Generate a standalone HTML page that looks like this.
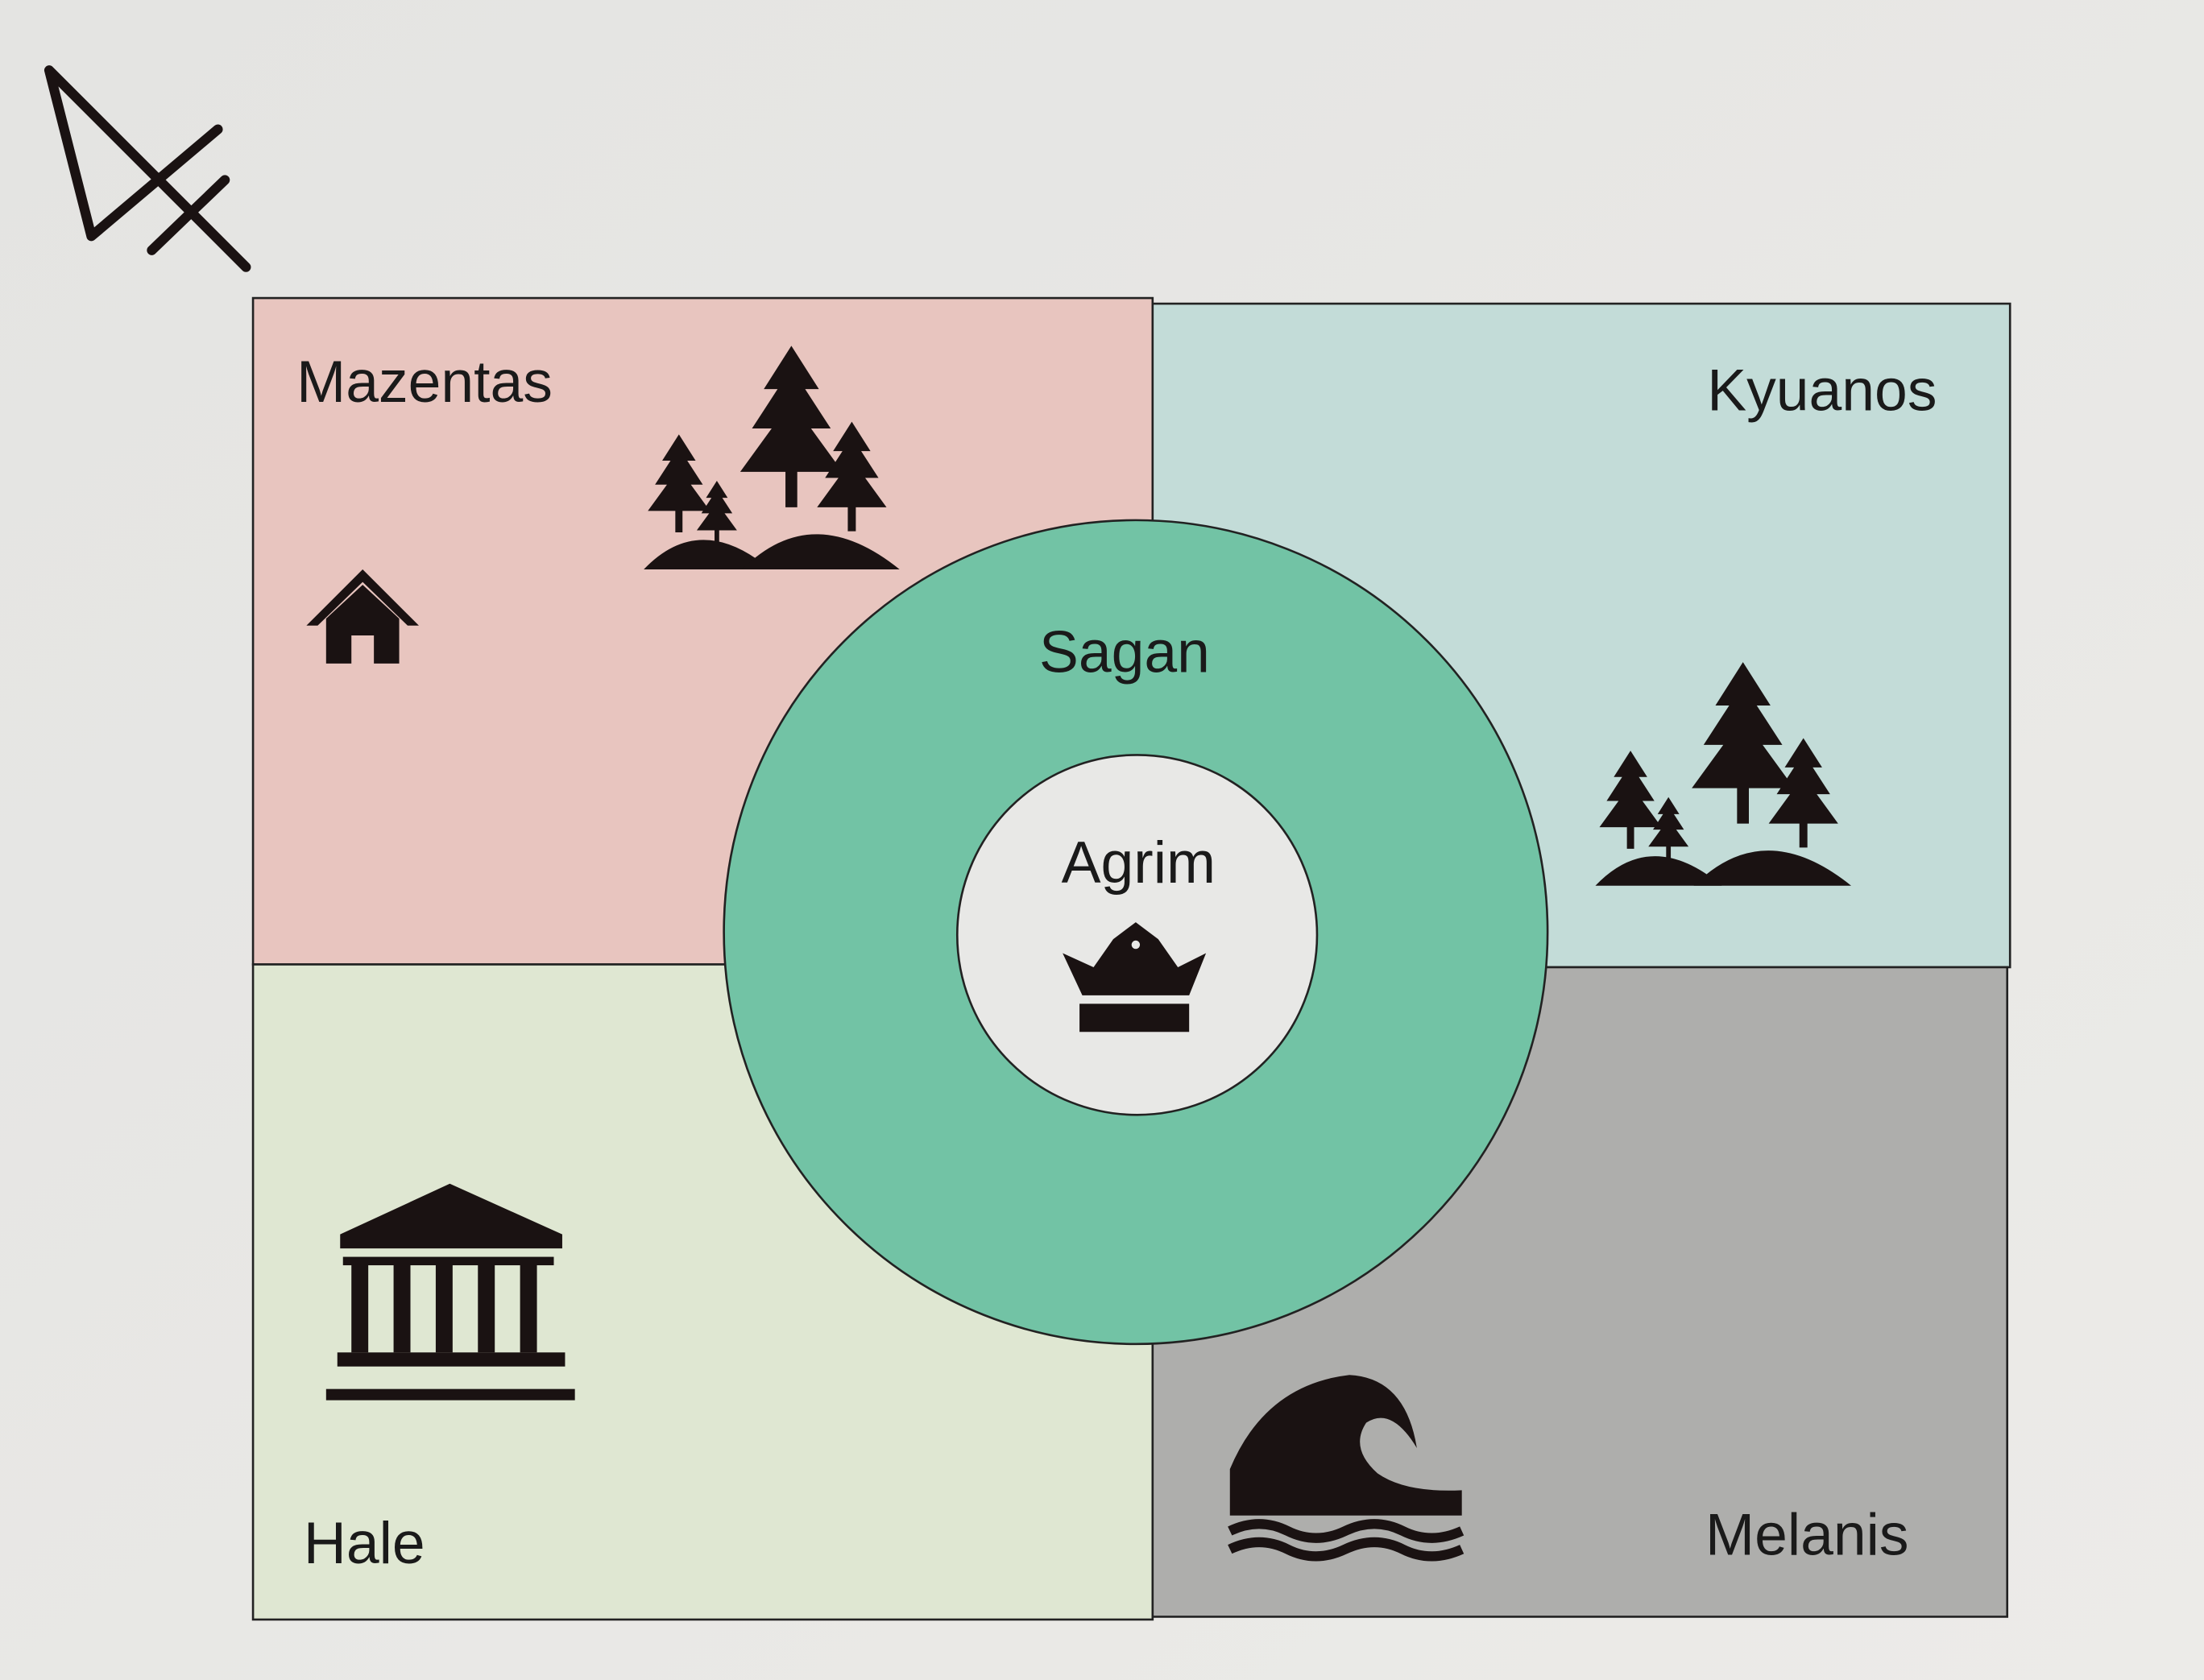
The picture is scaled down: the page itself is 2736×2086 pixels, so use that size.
<!DOCTYPE html>
<html><head><meta charset="utf-8"><style>
html,body{margin:0;padding:0;width:2736px;height:2086px;overflow:hidden;background:#e6e6e3}
svg{display:block}
text{font-family:"Liberation Sans",sans-serif;fill:#1a1a1a}
</style></head><body>
<svg width="2736" height="2086" viewBox="0 0 1568 1195" preserveAspectRatio="none">
<defs>
<linearGradient id="bg" x1="0" y1="0" x2="1" y2="1"><stop offset="0" stop-color="#e4e4e2"/><stop offset="1" stop-color="#ecebe8"/></linearGradient>
<g id="tree"><polygon points="0,-60 -14,-38 -7,-38 -20,-18 -10,-18 -26,4 -3,4 -3,22 3,22 3,4 26,4 10,-18 20,-18 7,-38 14,-38" fill="#1a1212"/></g>
<g id="forest">
<use href="#tree" transform="translate(105,-75) scale(1.4)"/>
<use href="#tree" transform="translate(148,-48) scale(0.95)"/>
<use href="#tree" transform="translate(25,-45) scale(0.85)"/>
<use href="#tree" transform="translate(52,-30) scale(0.55)"/>
<path d="M0,0 Q40,-42 90,0 Z" fill="#1a1212"/>
<path d="M70,0 Q120,-50 182,0 Z" fill="#1a1212"/>
</g>
</defs>
<rect width="1568" height="1195" fill="url(#bg)"/>
<g stroke="#1a1212" stroke-width="7" fill="none" stroke-linecap="round" stroke-linejoin="round">
<polyline points="175,190 35,50 65,168 155,92"/>
<line x1="108" y1="178" x2="160" y2="128"/>
</g>
<rect x="180" y="212" width="640" height="474" fill="#e8c5bf" stroke="#222" stroke-width="1.5"/>
<rect x="820" y="216" width="610" height="472" fill="#c3dcd8" stroke="#222" stroke-width="1.5"/>
<rect x="180" y="686" width="640" height="466" fill="#dfe7d2" stroke="#222" stroke-width="1.5"/>
<rect x="820" y="688" width="608" height="462" fill="#aeaeac" stroke="#222" stroke-width="1.5"/>
<circle cx="808" cy="663" r="293" fill="#72c3a5" stroke="#222" stroke-width="1.5"/>
<circle cx="809" cy="665" r="128" fill="#e8e8e6" stroke="#222" stroke-width="1.5"/>
<text x="211" y="286" font-size="42">Mazentas</text>
<text x="1378" y="292" font-size="42" text-anchor="end">Kyuanos</text>
<text x="800" y="478" font-size="42" text-anchor="middle">Sagan</text>
<text x="810" y="628" font-size="42" text-anchor="middle">Agrim</text>
<text x="216" y="1112" font-size="42">Hale</text>
<text x="1358" y="1106" font-size="42" text-anchor="end">Melanis</text>
<use href="#forest" transform="translate(458,405)"/>
<use href="#forest" transform="translate(1135,630)"/>
<g fill="#1a1212"><polygon points="218,445 258,405 298,445 290,445 258,414 226,445"/><polygon points="232,440 258,416 284,440 284,472 266,472 266,452 250,452 250,472 232,472"/></g>
<g fill="#1a1212">
<polygon points="242,878 320,842 400,878 400,888 242,888"/>
<rect x="250" y="896" width="12" height="66"/><rect x="280" y="896" width="12" height="66"/><rect x="310" y="896" width="12" height="66"/><rect x="340" y="896" width="12" height="66"/><rect x="370" y="896" width="12" height="66"/>
<rect x="244" y="894" width="150" height="6"/><rect x="240" y="962" width="162" height="10"/>
<rect x="232" y="988" width="177" height="8"/>
</g>
<g fill="#1a1212">
<path d="M875,1078 L875,1045 Q900,985 960,978 Q1000,980 1008,1030 Q990,1000 972,1012 Q960,1030 980,1048 Q1000,1062 1040,1060 L1040,1078 Z"/>
</g>
<g fill="none" stroke="#1a1212" stroke-width="7">
<path d="M875,1089 q21,-10 41,0 t41,0 t41,0 t42,0"/>
<path d="M875,1102 q21,-10 41,0 t41,0 t41,0 t42,0"/>
</g>
<g fill="#1a1212">
<path d="M756,678 L770,708 L846,708 L858,678 L838,688 L824,668 L808,656 L792,668 L778,688 Z"/>
<rect x="768" y="714" width="78" height="20"/>
<circle cx="808" cy="672" r="3" fill="#e8e8e6"/>
</g>
</svg>
</body></html>
